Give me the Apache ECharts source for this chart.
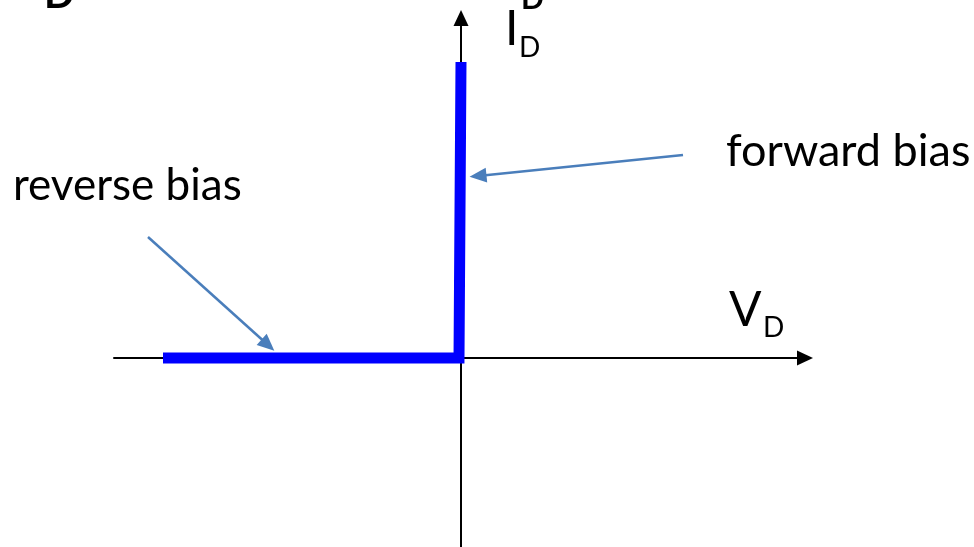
<!DOCTYPE html>
<html>
<head>
<meta charset="utf-8">
<script src="https://cdn.jsdelivr.net/npm/echarts@6/dist/echarts.min.js"></script>
<style>
  html, body { margin: 0; padding: 0; background: #fff; }
  #chart { width: 974px; height: 547px; }
</style>
</head>
<body>
<div id="chart"></div>
<script>
// diode I-V sketch: axes cross at origin, units are arbitrary
const xRange = [-3.47, 3.44]
const yRange = [-1.89, 3.40]

// ideal diode curve: flat at zero in reverse, vertical at zero in forward
const curveV = [-2.98, -0.02, 0]
const curveI = [0, 0, 2.96]

// annotation arrows [fromV, fromI, toV, toI]
const forwardArrow = [2.22, 2.03, 0.17, 1.82]
const reverseArrow = [-3.13, 1.21, -1.93, 0.13]

const labels = ['forward bias', 'reverse bias']

const chart = echarts.init(document.getElementById('chart'))

const axisBase = {
  type: 'value',
  axisLine: {
    show: true,
    onZero: true,
    symbol: ['none', 'triangle'],
    symbolSize: [15, 16],
    lineStyle: { color: '#000', width: 2 }
  },
  axisTick: { show: false },
  axisLabel: { show: false },
  splitLine: { show: false }
}

function arrowLine(a) {
  return [{ coord: [a[0], a[1]] }, { coord: [a[2], a[3]] }]
}

const font = 'Lato, "Open Sans", sans-serif'

chart.setOption({
  animation: false,
  backgroundColor: '#fff',
  grid: { left: 114, right: 169, top: 18, bottom: 0 },
  xAxis: Object.assign({}, axisBase, { min: xRange[0], max: xRange[1] }),
  yAxis: Object.assign({}, axisBase, { min: yRange[0], max: yRange[1] }),
  series: [
    {
      type: 'line',
      data: curveV.map((v, i) => [v, curveI[i]]),
      showSymbol: false,
      lineStyle: { color: '#0000ff', width: 11, cap: 'butt', join: 'miter' },
      z: 3,
      markLine: {
        silent: true,
        symbol: ['none', 'triangle'],
        symbolSize: [15, 17],
        label: { show: false },
        lineStyle: { color: '#4a7ebb', width: 2.5, type: 'solid' },
        data: [arrowLine(forwardArrow), arrowLine(reverseArrow)]
      }
    }
  ],
  graphic: [
    { type: 'text', left: 505, top: 6, style: { text: 'I', font: '48px ' + font, fill: '#000' } },
    { type: 'text', left: 519, top: 34, style: { text: 'D', font: '28px ' + font, fill: '#000' } },
    { type: 'text', left: 729, top: 287, style: { text: 'V', font: '48px ' + font, fill: '#000' } },
    { type: 'text', left: 763, top: 314, style: { text: 'D', font: '28px ' + font, fill: '#000' } },
    { type: 'text', left: 726, top: 129, style: { text: labels[0], font: '45px ' + font, fill: '#000' } },
    { type: 'text', left: 13, top: 164, style: { text: labels[1], font: '44px ' + font, fill: '#000' } },
    { type: 'text', left: 44, top: -25, style: { text: 'D', font: 'bold 40px ' + font, fill: '#000' } },
    { type: 'text', left: 521, top: -16, style: { text: 'D', font: 'bold 30px ' + font, fill: '#000' } }
  ]
})
</script>
</body>
</html>
